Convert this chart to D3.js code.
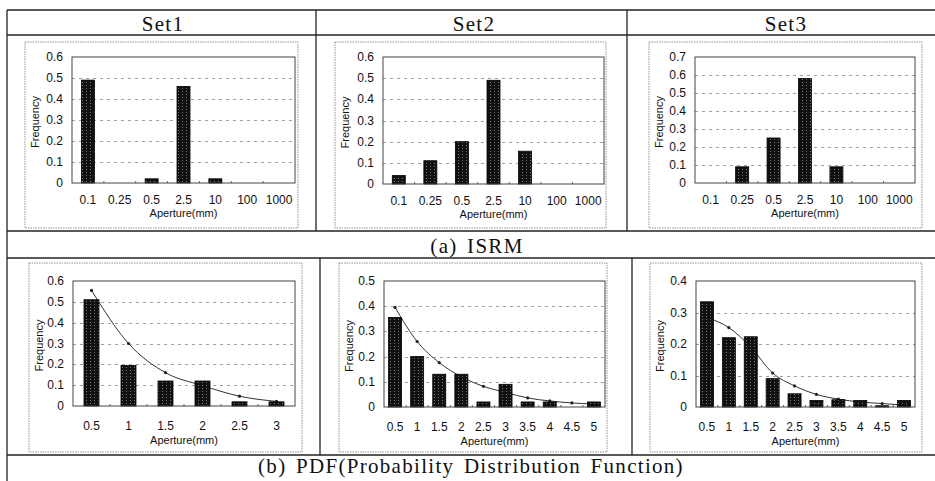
<!DOCTYPE html>
<html>
<head>
<meta charset="utf-8">
<script src="https://cdn.jsdelivr.net/npm/d3@7"></script>
<style>
  body { margin: 0; background: #fff; }
  svg { display: block; }
  .tick-label { font-family: "Liberation Sans", Arial, sans-serif; font-size: 12px; fill: #111; }
  .axis-title { font-family: "Liberation Sans", Arial, sans-serif; font-size: 11px; fill: #111; }
  .head { font-family: "Liberation Serif", "DejaVu Serif", serif; font-size: 21px; fill: #111;
          letter-spacing: 1.3px; word-spacing: 3px; }
</style>
</head>
<body>
<svg id="chart" width="935" height="481"></svg>
<script>
// ---- data ----
var isrmCats = ["0.1", "0.25", "0.5", "2.5", "10", "100", "1000"];
var isrmSet1 = [0.49, 0, 0.02, 0.46, 0.02, 0, 0];
var isrmSet2 = [0.04, 0.11, 0.2, 0.49, 0.155, 0, 0];
var isrmSet3 = [0, 0.09, 0.25, 0.58, 0.09, 0, 0];

var pdfCatsA = ["0.5", "1", "1.5", "2", "2.5", "3"];
var pdfCatsB = ["0.5", "1", "1.5", "2", "2.5", "3", "3.5", "4", "4.5", "5"];
var pdfSet1 = [0.51, 0.195, 0.12, 0.12, 0.02, 0.02];
var pdfSet1Fit = [0.555, 0.30, 0.16, 0.098, 0.047, 0.022];
var pdfSet2 = [0.355, 0.2, 0.13, 0.13, 0.02, 0.09, 0.02, 0.02, 0, 0.02];
var pdfSet2Fit = [0.395, 0.26, 0.176, 0.12, 0.082, 0.058, 0.036, 0.024, 0.016, 0.012];
var pdfSet3 = [0.334, 0.22, 0.223, 0.09, 0.042, 0.021, 0.023, 0.021, 0.004, 0.021];
var pdfSet3Fit = [0.284, 0.252, 0.19, 0.108, 0.067, 0.04, 0.025, 0.016, 0.011, 0.006];

var setNames = ["Set1", "Set2", "Set3"];
var captionA = "(a) ISRM";
var captionB = "(b) PDF(Probability Distribution Function)";

// ---- layout ----
var panels = [
  {frame: [25, 42, 298, 228], plot: [72, 57, 295, 183], cats: isrmCats, bars: isrmSet1, yMax: 0.6, bw: 13, lx: 21, tx: 34},
  {frame: [335, 42, 606, 228], plot: [383, 57, 604, 184], cats: isrmCats, bars: isrmSet2, yMax: 0.6, bw: 13, lx: 21, tx: 34},
  {frame: [649, 42, 922, 228], plot: [695, 57, 915, 183], cats: isrmCats, bars: isrmSet3, yMax: 0.7, bw: 13, lx: 21, tx: 34},
  {frame: [29, 263, 302, 452], plot: [73, 281, 295, 406], cats: pdfCatsA, bars: pdfSet1, fit: pdfSet1Fit, yMax: 0.6, bw: 15, lx: 24, tx: 38},
  {frame: [339, 263, 607, 452], plot: [384, 281, 605, 407], cats: pdfCatsB, bars: pdfSet2, fit: pdfSet2Fit, yMax: 0.5, bw: 13, lx: 24, tx: 38},
  {frame: [650, 263, 922, 452], plot: [696, 281, 915, 407], cats: pdfCatsB, bars: pdfSet3, fit: pdfSet3Fit, yMax: 0.4, bw: 13, lx: 24, tx: 38}
];

var svg = d3.select("#chart");

// stipple pattern for bars
var pat = svg.append("defs").append("pattern")
  .attr("id", "stip").attr("width", 4).attr("height", 3)
  .attr("patternUnits", "userSpaceOnUse");
pat.append("rect").attr("width", 4).attr("height", 3).attr("fill", "#111");
pat.append("rect").attr("x", 2).attr("y", 1).attr("width", 1).attr("height", 1).attr("fill", "#777");

// ---- table grid ----
var tbl = svg.append("g").attr("stroke", "#222").attr("stroke-width", 1.3);
[[7, 10, 935, 10], [7, 35, 935, 35], [7, 231, 935, 231], [7, 258, 935, 258], [7, 455, 935, 455],
 [7, 10, 7, 481], [316, 10, 316, 231], [627, 10, 627, 231], [320, 258, 320, 455], [632, 258, 632, 455]]
  .forEach(function(l){
    tbl.append("line").attr("x1", l[0]).attr("y1", l[1]).attr("x2", l[2]).attr("y2", l[3]);
  });

svg.selectAll("text.set").data(setNames).enter().append("text")
  .attr("class", "head")
  .attr("x", function(d, i){ return [163, 474, 786][i]; })
  .attr("y", 31)
  .attr("text-anchor", "middle")
  .text(function(d){ return d; });

svg.append("text").attr("class", "head").attr("x", 477).attr("y", 253)
  .attr("text-anchor", "middle").text(captionA);
svg.append("text").attr("class", "head").attr("x", 471).attr("y", 473)
  .attr("text-anchor", "middle").text(captionB);

// ---- panels ----
panels.forEach(function(p){
  var g = svg.append("g");
  var f = p.frame, b = p.plot;

  g.append("rect")
    .attr("x", f[0]).attr("y", f[1]).attr("width", f[2] - f[0]).attr("height", f[3] - f[1])
    .attr("fill", "none").attr("stroke", "#777").attr("stroke-width", 0.8)
    .attr("stroke-dasharray", "1.5,1");

  var x = d3.scaleBand().domain(p.cats).range([b[0], b[2]]);
  var y = d3.scaleLinear().domain([0, p.yMax]).range([b[3], b[1]]);
  var ticks = d3.range(0, Math.round(p.yMax * 10) + 1).map(function(i){ return i / 10; });

  // gridlines
  g.selectAll("line.grid").data(ticks.slice(1, -1)).enter().append("line")
    .attr("x1", b[0]).attr("x2", b[2])
    .attr("y1", function(d){ return Math.round(y(d)) + 0.5; })
    .attr("y2", function(d){ return Math.round(y(d)) + 0.5; })
    .attr("stroke", "#888").attr("stroke-width", 0.8).attr("stroke-dasharray", "3,4");

  // y axis labels
  g.selectAll("text.yl").data(ticks).enter().append("text")
    .attr("class", "tick-label")
    .attr("x", b[0] - 9).attr("y", function(d){ return y(d) + 4; })
    .attr("text-anchor", "end")
    .text(function(d){ return d === 0 ? "0" : d.toFixed(1); });

  // x axis labels
  g.selectAll("text.xl").data(p.cats).enter().append("text")
    .attr("class", "tick-label")
    .attr("x", function(d){ return x(d) + x.bandwidth() / 2; })
    .attr("y", b[3] + p.lx)
    .attr("text-anchor", "middle")
    .text(function(d){ return d; });

  g.append("text").attr("class", "axis-title")
    .attr("x", (b[0] + b[2]) / 2).attr("y", b[3] + p.tx)
    .attr("text-anchor", "middle").text("Aperture(mm)");

  g.append("text").attr("class", "axis-title")
    .attr("transform", "translate(" + (f[0] + 14) + "," + ((b[1] + b[3]) / 2 + 2) + ") rotate(-90)")
    .attr("text-anchor", "middle").text("Frequency");

  // small ticks on the baseline
  g.selectAll("line.xt").data(p.cats.slice(1)).enter().append("line")
    .attr("x1", function(d){ return x(d); }).attr("x2", function(d){ return x(d); })
    .attr("y1", b[3]).attr("y2", b[3] - 2)
    .attr("stroke", "#444").attr("stroke-width", 0.8);

  // fitted pdf curve (drawn behind the bars)
  if (p.fit) {
    var line = d3.line()
      .x(function(d, i){ return x(p.cats[i]) + x.bandwidth() / 2; })
      .y(function(d){ return y(d); })
      .curve(d3.curveMonotoneX);
    g.append("path").datum(p.fit).attr("d", line)
      .attr("fill", "none").attr("stroke", "#333").attr("stroke-width", 1);
    g.selectAll("circle.pt").data(p.fit).enter().append("circle")
      .attr("cx", function(d, i){ return x(p.cats[i]) + x.bandwidth() / 2; })
      .attr("cy", function(d){ return y(d); })
      .attr("r", 1.6).attr("fill", "#222");
  }

  // bars
  g.selectAll("rect.bar").data(p.bars).enter().append("rect")
    .attr("x", function(d, i){ return x(p.cats[i]) + (x.bandwidth() - p.bw) / 2; })
    .attr("y", function(d){ return y(d); })
    .attr("width", p.bw)
    .attr("height", function(d){ return y(0) - y(d); })
    .attr("fill", "url(#stip)").attr("stroke", "#000").attr("stroke-width", 0.8);

  // plot area border
  g.append("rect")
    .attr("x", b[0]).attr("y", b[1]).attr("width", b[2] - b[0]).attr("height", b[3] - b[1])
    .attr("fill", "none").attr("stroke", "#444").attr("stroke-width", 1);
});
</script>
</body>
</html>
